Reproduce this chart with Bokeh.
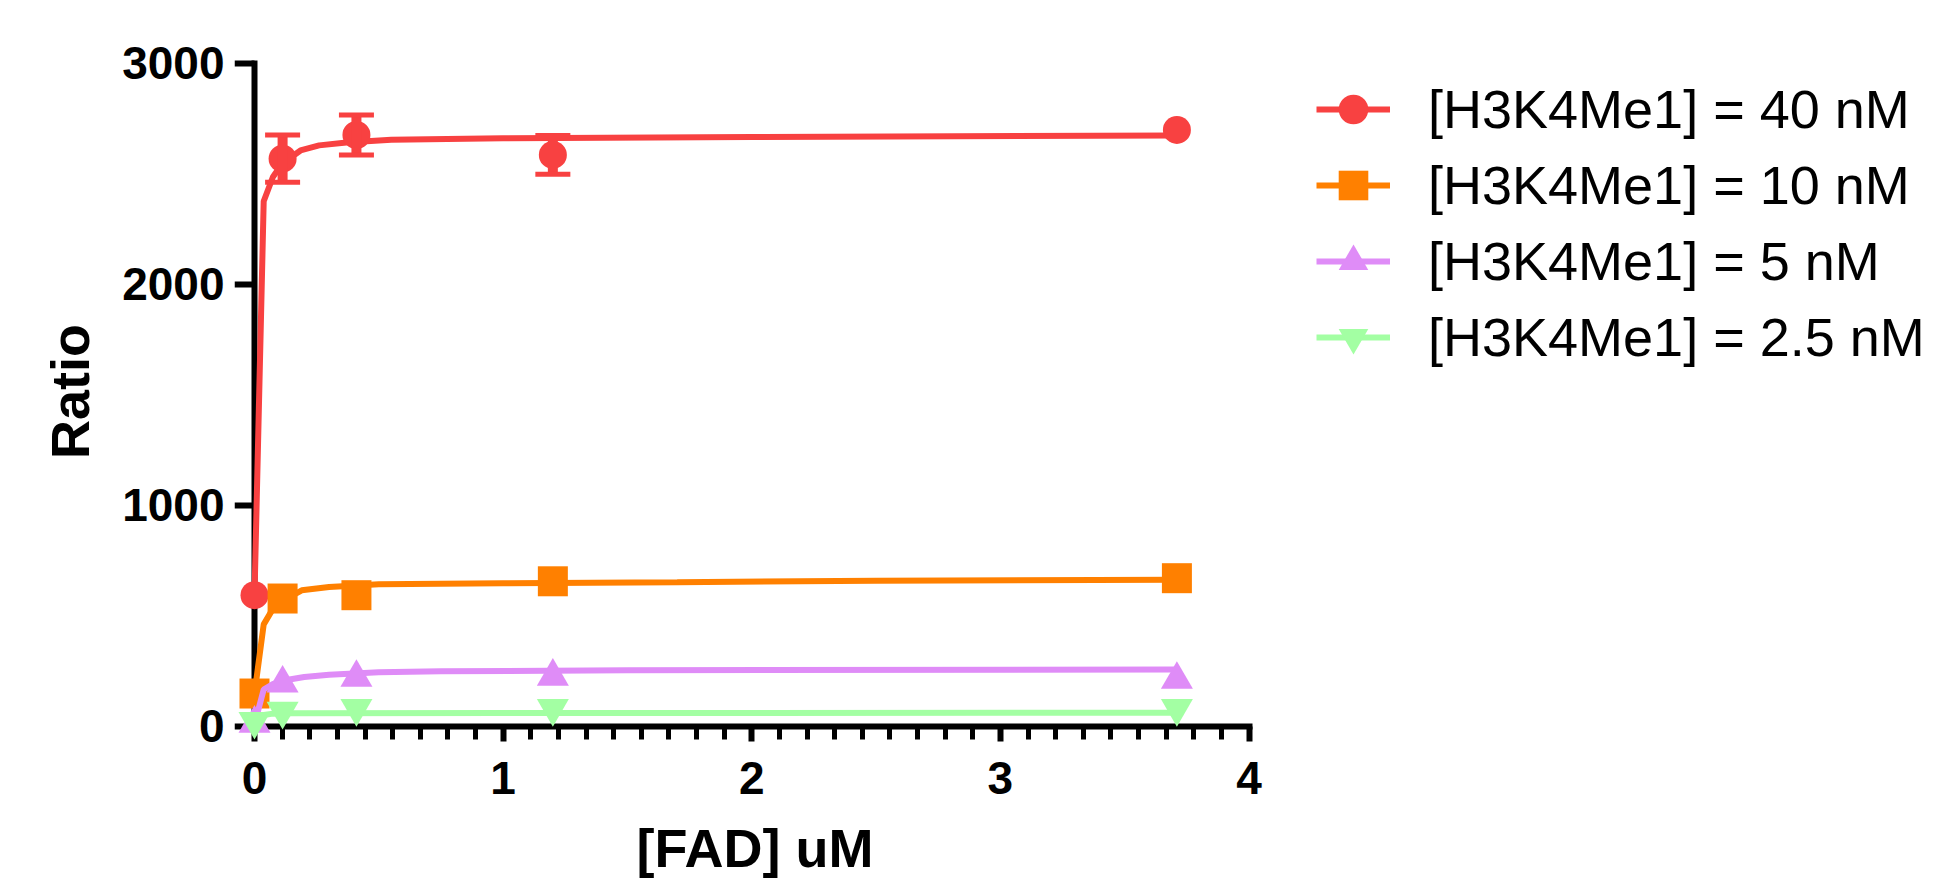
from bokeh.plotting import figure
from bokeh.layouts import row
from bokeh.models import (Range1d, FixedTicker, SingleIntervalTicker, Legend, LegendItem,
                          Whisker, TeeHead, ColumnDataSource, LinearAxis)
from bokeh.embed import file_html
from bokeh.resources import INLINE

# ---------------- data ----------------
fad_um = [0, 0.113, 0.41, 1.2, 3.71]
ratio_40nM = [592, 2568, 2675, 2585, 2698]
err_40nM = [0, 107, 90, 88, 0]
ratio_10nM = [147, 577, 592, 655, 669]
ratio_5nM = [11, 193, 219, 224, 210]
ratio_2_5nM = [22, 68, 80, 80, 80]

# fitted curves as drawn in the reference
fit_40_x = [0, 0.037, 0.074, 0.111, 0.185, 0.26, 0.37, 0.55, 1.0, 2.0, 3.7]
fit_40_y = [592, 2375, 2485, 2545, 2605, 2628, 2641, 2654, 2660, 2666, 2673]
fit_10_x = [0, 0.037, 0.074, 0.111, 0.19, 0.3, 0.5, 1.0, 1.7, 2.5, 3.7]
fit_10_y = [147, 460, 530, 565, 614, 629, 642, 646, 651, 658, 662]
fit_5_x = [0, 0.037, 0.074, 0.111, 0.2, 0.3, 0.5, 0.75, 1.5, 3.7]
fit_5_y = [8, 165, 190, 205, 222, 232, 243, 248, 252, 256]
fit_2_5_x = [0, 0.037, 0.074, 0.15, 1.0, 3.7]
fit_2_5_y = [4, 50, 56, 58, 59, 60]

series_labels = ["[H3K4Me1] = 40 nM", "[H3K4Me1] = 10 nM",
                 "[H3K4Me1] = 5 nM", "[H3K4Me1] = 2.5 nM"]

x_ticks = [0, 1, 2, 3, 4]
x_tick_labels = ["0", "1", "2", "3", "4"]
y_ticks = [0, 1000, 2000, 3000]
y_tick_labels = ["0", "1000", "2000", "3000"]
x_title = "[FAD] uM"
y_title = "Ratio"

# ---------------- styles ----------------
colors = ["#F84141", "#FF8000", "#DF8CF7", "#A3FFA3"]
markers = ["circle", "square", "triangle", "inverted_triangle"]
msizes = [28, 30, 32, 32]
FONT = "Liberation Sans"

# ---------------- geometry (canvas pixels) ----------------
W, H = 1935, 881
W1 = 1300                 # chart figure width; legend figure takes the rest
FL, FR, FT, FB = 234, 1275, 41, 741
x_px = 248.625            # pixels per x unit
x0c = 254.0               # canvas x of FAD = 0
y_px = 662.8 / 3000       # pixels per y unit
y0c = 725.5               # canvas y of Ratio = 0
x_start = -(x0c - FL) / x_px
x_end = x_start + (FR - FL) / x_px
y_end = 3000 + ((y0c - 662.8) - FT) / y_px
y_start = -(FB - y0c) / y_px

p = figure(width=W1, height=H,
           x_range=Range1d(x_start, x_end), y_range=Range1d(y_start, y_end),
           min_border_left=FL, min_border_right=W1 - FR,
           min_border_top=FT, min_border_bottom=H - FB,
           output_backend="svg", toolbar_location=None)
p.xgrid.visible = False
p.ygrid.visible = False
p.outline_line_color = None
p.background_fill_color = "white"
p.border_fill_color = "white"

# axis lines + ticks, pinned at the data origin
xa = p.xaxis[0]
xa.fixed_location = 0
xa.bounds = (0, 4)
xa.ticker = SingleIntervalTicker(interval=1, num_minor_ticks=9)
xa.axis_line_width = 6
xa.axis_line_cap = "square"
xa.major_tick_line_width = 6
xa.major_tick_out = 22
xa.major_tick_in = 0
xa.minor_tick_line_width = 5
xa.minor_tick_out = 13
xa.minor_tick_in = 0
xa.major_label_text_color = None

ya = p.yaxis[0]
ya.fixed_location = 0
ya.bounds = (0, 3000)
ya.ticker = FixedTicker(ticks=y_ticks, minor_ticks=[])
ya.axis_line_width = 6
ya.axis_line_cap = "square"
ya.major_tick_line_width = 6
ya.major_tick_out = 20
ya.major_tick_in = 0
ya.minor_tick_out = 0
ya.minor_tick_in = 0
ya.major_label_text_color = None

# label-only axes in the side panels
lx = LinearAxis(ticker=FixedTicker(ticks=x_ticks, minor_ticks=[]),
                major_label_overrides=dict(zip(x_ticks, x_tick_labels)),
                bounds=(0, 4.03),
                axis_line_color=None, major_tick_line_color=None, minor_tick_line_color=None,
                major_tick_out=0, major_tick_in=0, minor_tick_out=0, minor_tick_in=0,
                major_label_text_font=FONT, major_label_text_font_size="46px",
                major_label_text_font_style="bold", major_label_text_color="black",
                major_label_standoff=20,
                axis_label=x_title, axis_label_text_font=FONT,
                axis_label_text_font_size="54px", axis_label_text_font_style="bold",
                axis_label_text_color="black", axis_label_standoff=21)
p.add_layout(lx, "below")

ly = LinearAxis(ticker=FixedTicker(ticks=y_ticks, minor_ticks=[]),
                major_label_overrides=dict(zip(y_ticks, y_tick_labels)),
                bounds=(0, 3028),
                axis_line_color=None, major_tick_line_color=None, minor_tick_line_color=None,
                major_tick_out=0, major_tick_in=0, minor_tick_out=0, minor_tick_in=0,
                major_label_text_font=FONT, major_label_text_font_size="46px",
                major_label_text_font_style="bold", major_label_text_color="black",
                major_label_standoff=10,
                axis_label=y_title, axis_label_text_font=FONT,
                axis_label_text_font_size="54px", axis_label_text_font_style="bold",
                axis_label_text_color="black", axis_label_standoff=19)
p.add_layout(ly, "left")

fits = [(fit_40_x, fit_40_y), (fit_10_x, fit_10_y), (fit_5_x, fit_5_y), (fit_2_5_x, fit_2_5_y)]
values = [ratio_40nM, ratio_10nM, ratio_5nM, ratio_2_5nM]

for i in range(4):
    fx, fy = fits[i]
    p.line(fx, fy, line_color=colors[i], line_width=6, level="overlay")
    if i == 0:
        ex = [x for x, e in zip(fad_um, err_40nM) if e > 0]
        eu = [v + e for v, e in zip(ratio_40nM, err_40nM) if e > 0]
        el = [v - e for v, e in zip(ratio_40nM, err_40nM) if e > 0]
        src = ColumnDataSource(dict(x=ex, upper=eu, lower=el))
        wk = Whisker(source=src, base="x", upper="upper", lower="lower",
                     dimension="height", line_color=colors[0], line_width=10,
                     level="overlay",
                     upper_head=TeeHead(size=35, line_color=colors[0], line_width=5),
                     lower_head=TeeHead(size=35, line_color=colors[0], line_width=5))
        p.add_layout(wk)
    p.scatter(fad_um, values[i], marker=markers[i], size=msizes[i],
              fill_color=colors[i], line_color=None, level="overlay")

# ---------------- legend panel (second figure, same series & styles) ----------------
# its ranges lie far outside the data, so only the legend is visible there
p2 = figure(width=W - W1, height=H, x_range=Range1d(100, 101), y_range=Range1d(100000, 100001),
            min_border=0, x_axis_location=None, y_axis_location=None,
            output_backend="svg", toolbar_location=None)
p2.grid.visible = False
p2.outline_line_color = None
p2.background_fill_color = "white"
p2.border_fill_color = "white"

items = []
for i in range(4):
    fx, fy = fits[i]
    lr = p2.line(fx, fy, line_color=colors[i], line_width=6)
    sr = p2.scatter(fad_um, values[i], marker=markers[i], size=msizes[i],
                    fill_color=colors[i], line_color=None)
    items.append(LegendItem(label=series_labels[i], renderers=[lr, sr]))

legend = Legend(items=items, location=(16, 366),
                glyph_width=74, glyph_height=76, label_height=76,
                spacing=0, padding=0, margin=0, label_standoff=38,
                label_text_font=FONT, label_text_font_size="54px",
                label_text_color="black",
                border_line_color=None, background_fill_alpha=0)
p2.add_layout(legend)

layout = row(p, p2)
open("out.html", "w").write(file_html(layout, INLINE))
